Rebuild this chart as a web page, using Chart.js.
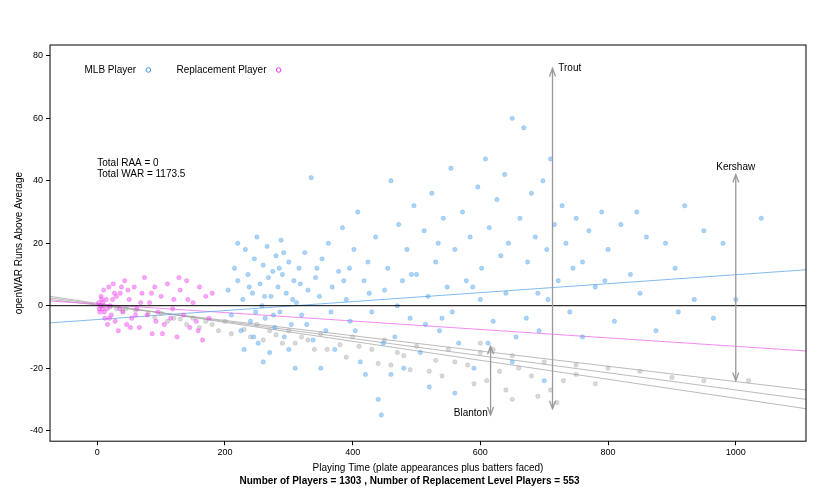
<!DOCTYPE html>
<html><head><meta charset="utf-8">
<script src="https://cdn.jsdelivr.net/npm/chart.js@4/dist/chart.umd.min.js"></script>
<style>body{margin:0;background:#fff}#wrap{width:820px;height:496px}</style>
</head><body><div id="wrap"><canvas id="c"></canvas></div>
<script>
const mlbPoints = [[205,5],[210,-3],[215,12],[220,8],[225,-8],[228,2],[232,18],[236,10],[240,-5],[243,4],[246,15],[250,22],[252,-12],[255,7],[258,0],[260,13],[263,-4],[266,19],[268,9],[270,-15],[272,3],[275,11],[278,-7],[280,16],[283,6],[286,-2],[288,21],[290,10],[293,-10],[296,4],[300,14],[304,-6],[308,8],[312,1],[316,12],[320,-3],[325,17],[330,5],[335,41],[338,-11],[342,9],[348,3],[352,15],[358,-8],[362,20],[368,6],[372,-14],[378,11],[384,25],[390,2],[396,-5],[402,18],[408,30],[412,-18],[418,8],[424,14],[430,-2],[436,22],[440,-30],[445,-35],[450,5],[455,12],[460,40],[466,-10],[472,26],[478,8],[485,18],[490,-4],[496,32],[500,10],[506,-15],[512,24],[518,3],[524,36],[530,14],[536,-8],[542,28],[548,6],[554,44],[560,18],[566,-12],[572,30],[578,8],[584,22],[590,-20],[596,38],[602,12],[608,47],[614,25],[620,-5],[626,34],[632,16],[638,42],[644,20],[650,60],[656,-10],[662,28],[668,57],[674,14],[680,36],[686,22],[692,-8],[698,40],[704,18],[710,47],[716,26],[722,8],[728,32],[734,20],[740,-2],[750,28],[760,14],[770,24],[780,6],[790,30],[800,18],[810,-5],[820,26],[835,10],[845,30],[860,22],[875,-8],[890,20],[905,12],[920,32],[935,2],[950,24],[965,-4],[980,20],[1000,2],[1040,28],[460,-22],[520,-26],[560,-28],[480,-20],[650,-18],[700,-24],[230,-14],[260,-18],[310,-20],[220,20],[245,-10],[285,12],[300,-14],[350,-20],[395,12],[420,-22],[540,-4],[600,2],[690,4],[760,-10],[238,6],[248,-2],[262,3],[276,-3],[292,17],[306,2],[318,7],[328,-6],[344,12],[366,-2],[386,8],[404,-8],[426,4],[448,-12],[470,0],[492,10],[514,-6],[534,20],[556,-2],[588,6],[612,-12],[640,4],[672,-4],[706,2],[745,12],[795,8],[850,4],[910,-2]];
const replPoints = [[2,1],[4,-2],[6,3],[8,-1],[10,5],[12,-4],[14,2],[16,-6],[18,6],[20,0],[22,-3],[25,7],[28,-5],[30,3],[33,-8],[36,4],[40,-2],[43,8],[46,-6],[50,2],[54,-4],[58,6],[62,-1],[66,-7],[70,4],[74,9],[78,-3],[82,1],[86,-9],[90,6],[95,-2],[100,3],[105,-6],[110,7],[115,-4],[120,2],[125,-10],[130,5],[135,-3],[140,8],[145,-7],[150,1],[155,-5],[160,6],[165,-11],[170,3],[175,-4],[180,4],[5,0],[9,1],[15,-1],[24,2],[35,-1],[48,5],[60,-3],[85,4],[102,-9],[118,-1],[142,2],[158,-8],[3,-1],[7,2],[11,-2],[19,-4],[27,4],[38,6],[52,-7],[68,1],[92,-5],[128,9]];
const replLevelPoints = [[20,-0.5],[60,-1.5],[100,-2.5],[150,-4],[200,-5],[250,-6],[300,-8],[350,-9],[400,-10],[450,-11],[500,-13],[550,-14],[600,-15],[650,-16],[700,-18],[750,-19],[800,-20],[850,-21],[900,-23],[950,-24],[1020,-24],[30,-1],[80,-2.6],[130,-4.3],[180,-6],[230,-7.6],[280,-9.3],[330,-11],[380,-12.5],[430,-14],[480,-16],[530,-17.5],[580,-19],[630,-21],[680,-22.5],[730,-24],[780,-25],[40,-1.7],[90,-3.8],[140,-6],[190,-8],[240,-10],[290,-12],[340,-14],[390,-16.5],[440,-18.5],[490,-20.5],[540,-22.5],[590,-25],[640,-27],[690,-29],[720,-31],[110,-5],[160,-7],[210,-9],[260,-11],[270,-8],[310,-12],[320,-10],[360,-14],[410,-13],[460,-19],[470,-15],[520,-21],[560,-18],[610,-24],[660,-20],[710,-27],[650,-30],[600,-12],[620,-14],[750,-22],[10,0],[45,-1],[120,-4],[170,-5]];
const mlbFit = [[-74,-5.5],[1110,11.5]];
const replFit = [[-74,1.5],[1110,-14.5]];
const levelLines = [[[-74,2],[1110,-27]],[[-74,2.5],[1110,-30]],[[-74,3],[1110,-33]]];
const arrows = [
  {name:'Trout', x:713, y0:-33, y1:76, lx:722, ly:76, align:'left'},
  {name:'Kershaw', x:1000, y0:-24, y1:42, lx:1000, ly:44.5, align:'center'},
  {name:'Blanton', x:616, y0:-13, y1:-35, lx:585, ly:-34.5, align:'center'}
];
const xTicks = [0,200,400,600,800,1000];
const yTicks = [-40,-20,0,20,40,60,80];

const pts = a => a.map(([x,y]) => ({x,y}));
const lineSet = (d,c) => ({type:'line', data:pts(d), borderColor:c, borderWidth:1, pointRadius:0, order:5});
const font = '"Liberation Sans", Arial';

const overlay = {
  id:'overlay',
  afterDatasetsDraw(chart){
    const {ctx, scales:{x,y}, chartArea:a} = chart;
    ctx.save();
    ctx.beginPath(); ctx.rect(a.left,a.top,a.width,a.height); ctx.clip();
    ctx.strokeStyle='#000'; ctx.lineWidth=1;
    ctx.beginPath(); ctx.moveTo(a.left,y.getPixelForValue(0)); ctx.lineTo(a.right,y.getPixelForValue(0)); ctx.stroke();
    ctx.restore();
    ctx.save();
    ctx.strokeStyle='#999'; ctx.lineWidth=1.3;
    arrows.forEach(r => {
      const px=x.getPixelForValue(r.x), p0=y.getPixelForValue(r.y0), p1=y.getPixelForValue(r.y1);
      ctx.beginPath(); ctx.moveTo(px,p0); ctx.lineTo(px,p1); ctx.stroke();
      [[p0,p1],[p1,p0]].forEach(([tip,from]) => {
        const d = tip<from?1:-1;
        ctx.beginPath(); ctx.moveTo(px-3,tip+8*d); ctx.lineTo(px,tip); ctx.lineTo(px+3,tip+8*d); ctx.stroke();
      });
    });
    ctx.fillStyle='#000'; ctx.font='10px '+font; ctx.textBaseline='middle';
    arrows.forEach(r => { ctx.textAlign=r.align; ctx.fillText(r.name, x.getPixelForValue(r.lx), y.getPixelForValue(r.ly)); });
    ctx.textAlign='left';
    ctx.fillText('Total RAA = 0', x.getPixelForValue(0), y.getPixelForValue(45.6));
    ctx.fillText('Total WAR = 1173.5', x.getPixelForValue(0), y.getPixelForValue(42));
    const ly = y.getPixelForValue(75.5);
    ctx.fillText('MLB Player', x.getPixelForValue(-20), ly);
    ctx.fillText('Replacement Player', x.getPixelForValue(124), ly);
    ctx.lineWidth=1;
    ctx.strokeStyle='#3a96e8'; ctx.beginPath(); ctx.arc(x.getPixelForValue(80),ly,2.3,0,7); ctx.stroke();
    ctx.strokeStyle='#ee33ee'; ctx.beginPath(); ctx.arc(x.getPixelForValue(284),ly,2.3,0,7); ctx.stroke();
    ctx.strokeStyle='#000'; ctx.strokeRect(a.left,a.top,a.width,a.height);
    ctx.restore();
  }
};

new Chart(document.getElementById('c'), {
  type:'scatter',
  data:{datasets:[
    {data:pts(replLevelPoints), backgroundColor:'rgba(170,170,170,0.45)', borderColor:'rgba(150,150,150,0.5)', borderWidth:0.5, pointRadius:2.2, order:3},
    {data:pts(mlbPoints), backgroundColor:'rgba(70,160,235,0.45)', borderColor:'rgba(60,150,230,0.5)', borderWidth:0.5, pointRadius:2.2, order:2},
    {data:pts(replPoints), backgroundColor:'rgba(240,60,240,0.45)', borderColor:'rgba(230,50,230,0.5)', borderWidth:0.5, pointRadius:2.2, order:1},
    lineSet(mlbFit,'rgba(100,170,235,0.8)'),
    lineSet(replFit,'rgba(240,110,240,0.8)'),
    ...levelLines.map(l => lineSet(l,'rgba(170,170,170,0.8)'))
  ]},
  options:{
    responsive:true, maintainAspectRatio:false, animation:false,
    layout:{padding:{top:45,right:14,left:13,bottom:9}},
    plugins:{legend:{display:false}, tooltip:{enabled:false},
      subtitle:{display:true, position:'bottom', text:'Number of Players = 1303 , Number of Replacement Level Players = 553', color:'#000', font:{size:10,weight:'bold',family:font}, padding:{top:0,bottom:0}}},
    scales:{
      x:{type:'linear', min:-74, max:1110, afterBuildTicks:s=>{s.ticks=xTicks.map(v=>({value:v}));},
        grid:{display:true, drawOnChartArea:false, drawTicks:true, tickLength:4, tickColor:'#000'}, border:{display:false},
        ticks:{color:'#000', font:{size:9,family:font}, maxRotation:0, padding:2, callback:v=>String(v)},
        title:{display:true, text:'Playing Time (plate appearances plus batters faced)', color:'#000', font:{size:10,family:font}, padding:{top:2,bottom:1}}},
      y:{min:-43.4, max:83.5, afterBuildTicks:s=>{s.ticks=yTicks.map(v=>({value:v}));},
        grid:{display:true, drawOnChartArea:false, drawTicks:true, tickLength:4, tickColor:'#000'}, border:{display:false},
        ticks:{color:'#000', font:{size:9,family:font}, padding:3},
        title:{display:true, text:'openWAR Runs Above Average', color:'#000', font:{size:10,family:font}, padding:{top:0,bottom:2}}}
    }
  },
  plugins:[overlay]
});
</script></body></html>
